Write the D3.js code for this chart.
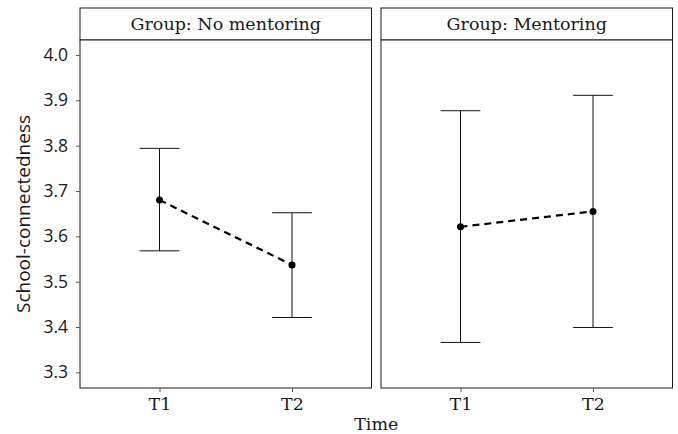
<!DOCTYPE html>
<html><head><meta charset="utf-8">
<script src="https://cdn.jsdelivr.net/npm/d3@7"></script>
<style>body{margin:0;background:#fff}svg{display:block}text{fill:#1a1a1a}</style>
</head><body><svg id="c" width="678" height="434"></svg>
<script>
const groups = ["Group: No mentoring", "Group: Mentoring"];
const times = ["T1", "T2"];
const means = [[3.680, 3.537], [3.621, 3.655]];
const lower = [[3.568, 3.421], [3.366, 3.399]];
const upper = [[3.794, 3.652], [3.877, 3.911]];
const yTicks = [3.3, 3.4, 3.5, 3.6, 3.7, 3.8, 3.9, 4.0];

const serif = '"DejaVu Serif",serif';
const sans = '"Open Sans",sans-serif';
const svg = d3.select("#c");
const panels = [{x0: 80, x1: 371.5}, {x0: 381, x1: 672.5}];
const stripTop = 8, pTop = 40, pBottom = 388;
const y = d3.scaleLinear().domain([3.2655, 4.033]).range([pBottom, pTop]);
const fsS = 17.5, fsY = 17.5, fsT = 19;

panels.forEach((p, gi) => {
  const x = d3.scalePoint().domain(times).range([p.x0, p.x1]).padding(0.6);
  const g = svg.append("g");
  g.append("rect").attr("x", p.x0).attr("y", stripTop).attr("width", p.x1 - p.x0).attr("height", pTop - stripTop)
    .attr("fill", "#fff").attr("stroke", "#1a1a1a").attr("stroke-width", 1);
  g.append("text").attr("x", (p.x0 + p.x1) / 2).attr("y", 30)
    .attr("text-anchor", "middle").attr("font-size", fsS).attr("font-family", serif).text(groups[gi]);
  g.append("rect").attr("x", p.x0).attr("y", pTop).attr("width", p.x1 - p.x0).attr("height", pBottom - pTop)
    .attr("fill", "#fff").attr("stroke", "#1a1a1a").attr("stroke-width", 1);
  const xa = g.append("g").attr("transform", `translate(0,${pBottom})`)
    .call(d3.axisBottom(x).tickSize(4).tickPadding(6));
  xa.select(".domain").remove();
  xa.selectAll("line").attr("stroke", "#555");
  xa.selectAll("text").attr("font-size", fsS).attr("font-family", serif).attr("fill", "#1a1a1a");
  if (gi === 0) {
    const ya = g.append("g").attr("transform", `translate(${p.x0},0)`)
      .call(d3.axisLeft(y).tickValues(yTicks).tickFormat(d3.format(".1f")).tickSize(4).tickPadding(8));
    ya.select(".domain").remove();
    ya.selectAll("line").attr("stroke", "#555");
    ya.selectAll("text").attr("font-size", fsY).attr("font-family", sans).attr("fill", "#1a1a1a");
  }
  const cw = (x(times[1]) - x(times[0])) * 0.15;
  times.forEach((t, ti) => {
    const cx = x(t);
    g.append("line").attr("x1", cx).attr("x2", cx).attr("y1", y(lower[gi][ti])).attr("y2", y(upper[gi][ti]))
      .attr("stroke", "#111").attr("stroke-width", 1);
    [lower[gi][ti], upper[gi][ti]].forEach(v => {
      g.append("line").attr("x1", cx - cw).attr("x2", cx + cw).attr("y1", y(v)).attr("y2", y(v))
        .attr("stroke", "#111").attr("stroke-width", 1);
    });
  });
  const line = d3.line().x((d, i) => x(times[i])).y(d => y(d));
  g.append("path").attr("d", line(means[gi])).attr("fill", "none").attr("stroke", "#000")
    .attr("stroke-width", 2.2).attr("stroke-dasharray", "7,5");
  means[gi].forEach((m, ti) => {
    g.append("circle").attr("cx", x(times[ti])).attr("cy", y(m)).attr("r", 3.5).attr("fill", "#000");
  });
});

svg.append("text").attr("x", (80 + 672.5) / 2).attr("y", 430).attr("text-anchor", "middle")
  .attr("font-size", fsS).attr("font-family", serif).text("Time");
svg.append("text").attr("transform", `translate(30,${(pTop + pBottom) / 2}) rotate(-90)`)
  .attr("text-anchor", "middle").attr("font-size", fsT).attr("font-family", sans).text("School-connectedness");
</script></body></html>
